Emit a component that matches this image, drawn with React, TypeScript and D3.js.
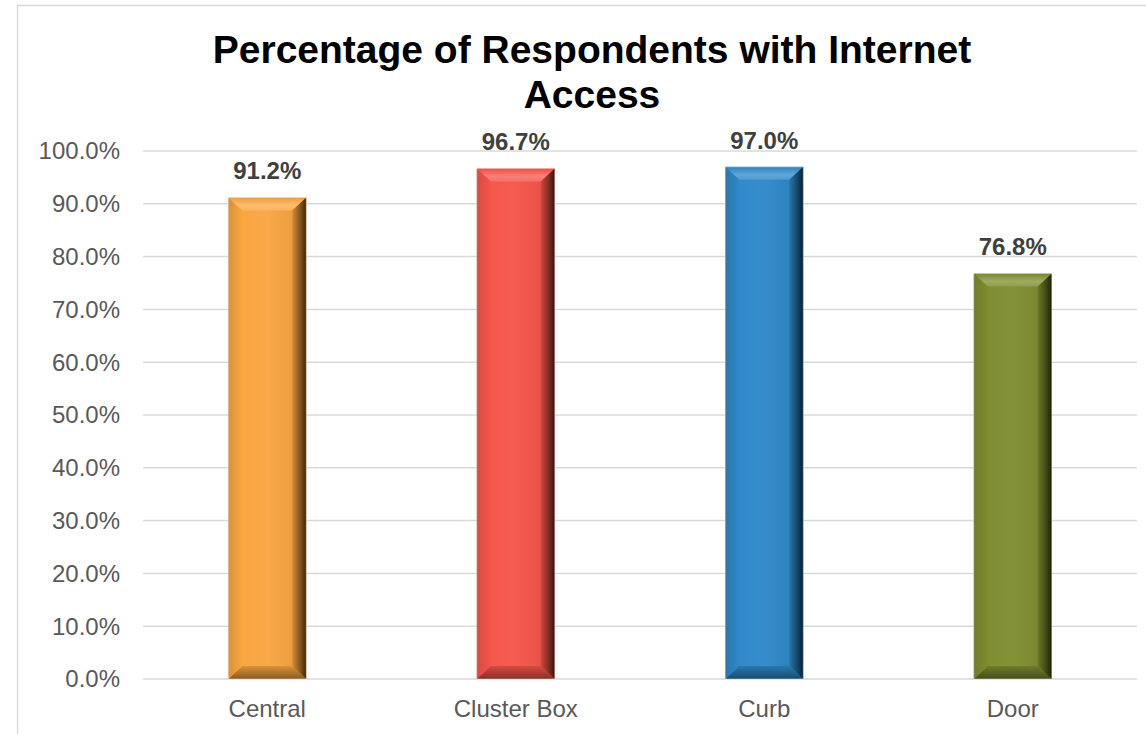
import React from "react";
import * as d3 from "d3";

const categories = ["Central", "Cluster Box", "Curb", "Door"];
const values = [91.2, 96.7, 97.0, 76.8];
const barColors = ["#F9A540", "#F5554A", "#2E88C8", "#7F8D30"];
const yTicks = [0, 10, 20, 30, 40, 50, 60, 70, 80, 90, 100];
const titleLines = ["Percentage of Respondents with Internet", "Access"];

const W = 1146;
const H = 734;
const plotLeft = 143;
const plotRight = 1137;
const plotTop = 151;
const plotBottom = 679;

export default function App() {
  const x = d3
    .scaleBand<string>()
    .domain(categories)
    .range([plotLeft, plotRight])
    .paddingInner(0.686)
    .paddingOuter(0.343);
  const y = d3.scaleLinear().domain([0, 100]).range([plotBottom, plotTop]);
  const bw = x.bandwidth();
  const bx = 14;
  const by = 13;

  const mix = (c: string, t: string, k: number) => d3.interpolateRgb(c, t)(k);

  return (
    <svg
      width={W}
      height={H}
      style={{ position: "absolute", left: 0, top: 0, background: "#fff" }}
      fontFamily="'Liberation Sans', Arial, sans-serif"
    >
      <defs>
        {barColors.map((c, i) => (
          <React.Fragment key={i}>
            <linearGradient id={`face${i}`} x1="0" x2="1" y1="0" y2="0">
              <stop offset="0" stopColor={c} />
              <stop offset="0.5" stopColor={mix(c, "#fff", 0.04)} />
              <stop offset="1" stopColor={mix(c, "#000", 0.08)} />
            </linearGradient>
            <linearGradient id={`right${i}`} x1="0" x2="1" y1="0" y2="0">
              <stop offset="0" stopColor={mix(c, "#000", 0.15)} />
              <stop offset="0.6" stopColor={mix(c, "#000", 0.5)} />
              <stop offset="1" stopColor={mix(c, "#000", 0.78)} />
            </linearGradient>
            <linearGradient id={`left${i}`} x1="0" x2="1" y1="0" y2="0">
              <stop offset="0" stopColor={mix(c, "#000", 0.12)} />
              <stop offset="1" stopColor={c} />
            </linearGradient>
            <linearGradient id={`top${i}`} x1="0" x2="0" y1="0" y2="1">
              <stop offset="0" stopColor={mix(c, "#000", 0.05)} />
              <stop offset="0.6" stopColor={mix(c, "#fff", 0.25)} />
              <stop offset="1" stopColor={mix(c, "#fff", 0.15)} />
            </linearGradient>
            <linearGradient id={`bot${i}`} x1="0" x2="0" y1="0" y2="1">
              <stop offset="0" stopColor={mix(c, "#000", 0.12)} />
              <stop offset="1" stopColor={mix(c, "#000", 0.45)} />
            </linearGradient>
          </React.Fragment>
        ))}
      </defs>
      <rect x={17.5} y={5.5} width={1140} height={740} fill="#fff" stroke="#d9d9d9" strokeWidth={1.5} />

      {titleLines.map((t, i) => (
        <text
          key={i}
          x={592}
          y={63 + i * 45}
          textAnchor="middle"
          fontSize={39}
          fontWeight="bold"
          fill="#000"
        >
          {t}
        </text>
      ))}

      {yTicks.map((t) => (
        <g key={t}>
          <line x1={plotLeft} x2={plotRight} y1={y(t)} y2={y(t)} stroke="#d9d9d9" strokeWidth={1.5} />
          <text x={120} y={y(t)} dy="0.35em" textAnchor="end" fontSize={24} fill="#595959">
            {t.toFixed(1) + "%"}
          </text>
        </g>
      ))}

      {categories.map((cat, i) => {
        const x0 = x(cat)!;
        const x1 = x0 + bw;
        const y0 = y(values[i]);
        const y1 = y(0);
        return (
          <g key={cat}>
            <rect x={x0} y={y0} width={bw} height={y1 - y0} fill={`url(#face${i})`} />
            <polygon
              points={`${x0},${y0} ${x1},${y0} ${x1 - bx},${y0 + by} ${x0 + bx},${y0 + by}`}
              fill={`url(#top${i})`}
            />
            <polygon
              points={`${x0},${y1} ${x1},${y1} ${x1 - bx},${y1 - by} ${x0 + bx},${y1 - by}`}
              fill={`url(#bot${i})`}
            />
            <polygon
              points={`${x0},${y0} ${x0 + bx},${y0 + by} ${x0 + bx},${y1 - by} ${x0},${y1}`}
              fill={`url(#left${i})`}
            />
            <polygon
              points={`${x1},${y0} ${x1 - bx},${y0 + by} ${x1 - bx},${y1 - by} ${x1},${y1}`}
              fill={`url(#right${i})`}
            />
            <rect
              x={x0}
              y={y0}
              width={bw}
              height={y1 - y0}
              fill="none"
              stroke="#ffffff"
              strokeOpacity={0.4}
              strokeWidth={1}
            />
            <text
              x={x0 + bw / 2}
              y={y0 - 18}
              textAnchor="middle"
              fontSize={24}
              fontWeight="bold"
              fill="#404040"
            >
              {values[i].toFixed(1) + "%"}
            </text>
            <text x={x0 + bw / 2} y={717} textAnchor="middle" fontSize={24} fill="#595959">
              {cat}
            </text>
          </g>
        );
      })}
    </svg>
  );
}
